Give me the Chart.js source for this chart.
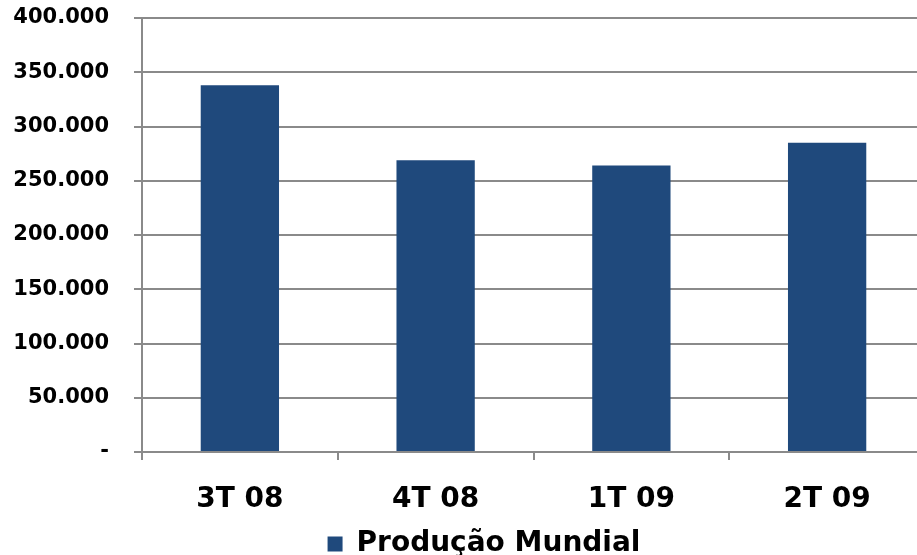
<!DOCTYPE html>
<html>
<head>
<meta charset="utf-8">
<script src="https://cdn.jsdelivr.net/npm/chart.js@4/dist/chart.umd.min.js"></script>
<style>
html,body{margin:0;padding:0;background:#fff;overflow:hidden;}
#wrap{width:917px;height:555px;overflow:hidden;position:relative;}
#box{width:956px;height:568px;position:absolute;left:0;top:0;}
</style>
</head>
<body>
<div id="wrap"><div id="box"><canvas id="c" width="956" height="568"></canvas></div></div>
<script>
const categories = ['3T 08', '4T 08', '1T 09', '2T 09'];
const producaoMundial = [338000, 269000, 264000, 285000];
const seriesName = 'Produção Mundial';
const yMin = 0, yMax = 400000, yStep = 50000;

function fmt(v){
  if (v === 0) return '-';
  return String(v).replace(/\B(?=(\d{3})+(?!\d))/g, '.');
}

const FONT = 'DejaVu Sans';
const GRID = '#8a8a8a';
const H = 568;

new Chart(document.getElementById('c'), {
  type: 'bar',
  data: {
    labels: categories,
    datasets: [{
      label: seriesName,
      data: producaoMundial,
      backgroundColor: '#1f497c',
      borderColor: '#1f497c',
      borderWidth: 0,
      barPercentage: 0.4,
      categoryPercentage: 1.0
    }]
  },
  options: {
    responsive: false,
    animation: false,
    devicePixelRatio: 1,
    layout: { padding: { left: 12, right: 0, top: 0, bottom: 0 } },
    plugins: {
      tooltip: { enabled: false },
      legend: {
        position: 'bottom',
        labels: {
          boxWidth: 15, boxHeight: 15, padding: 4,
          color: '#000',
          font: { family: FONT, size: 28, weight: 'bold' }
        }
      }
    },
    scales: {
      x: {
        offset: true,
        grid: { display: true, drawOnChartArea: false, drawTicks: true, tickLength: 8, color: GRID, lineWidth: 2, offset: true },
        border: { display: true, color: GRID, width: 2 },
        ticks: { color: '#000', padding: 23, maxRotation: 0, font: { family: FONT, size: 28, weight: 'bold' } },
        afterFit: function(scale){
          const lg = scale.chart.legend ? scale.chart.legend.height : 0;
          scale.height = H - 452 - lg;
        }
      },
      y: {
        min: yMin, max: yMax,
        ticks: { stepSize: yStep, color: '#000', padding: 25, callback: v => fmt(v), font: { family: FONT, size: 21, weight: 'bold' } },
        grid: { color: GRID, lineWidth: 2, tickLength: 8, drawTicks: true },
        border: { display: true, color: GRID, width: 2 },
        afterFit: function(scale){ scale.width = 130; scale.paddingTop = 18; }
      },
      spacer: {
        position: 'right',
        display: true,
        grid: { display: false, drawTicks: false },
        border: { display: false },
        ticks: { display: false },
        afterFit: function(scale){ scale.width = 31; scale.paddingTop = 0; scale.paddingBottom = 0; }
      }
    }
  }
});
</script>
</body>
</html>
